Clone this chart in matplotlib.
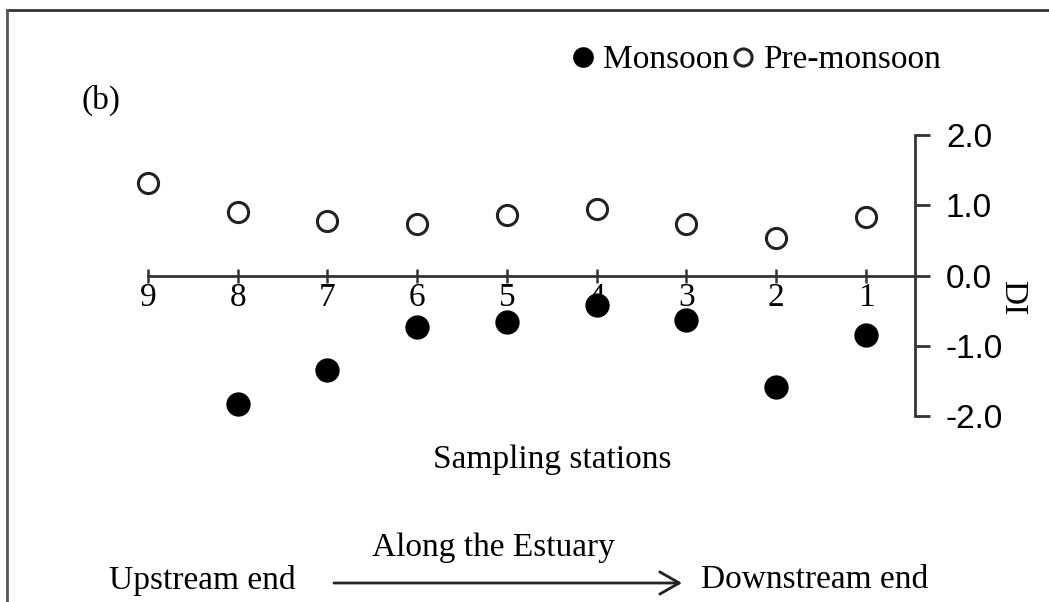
import matplotlib
matplotlib.use("Agg")
import matplotlib.pyplot as plt
from matplotlib.lines import Line2D

stations = [9, 8, 7, 6, 5, 4, 3, 2, 1]
tick_labels = ["9", "8", "7", "6", "5", "4", "3", "2", "1"]
pre_monsoon = [1.32, 0.90, 0.78, 0.73, 0.86, 0.95, 0.73, 0.53, 0.83]
monsoon_stations = [8, 7, 6, 5, 4, 3, 2, 1]
monsoon = [-1.83, -1.35, -0.73, -0.66, -0.42, -0.63, -1.59, -0.85]
y_ticks = [-2.0, -1.0, 0.0, 1.0, 2.0]

W, H = 1049, 602
fig = plt.figure(figsize=(W / 100, H / 100), dpi=100)
serif = "Liberation Serif"
sans = "Liberation Sans"

# axes placement (pixel geometry)
ax = fig.add_axes([94.15 / W, 0.2508, (1000.6 - 94.15) / W, 0.6997])
ax.set_xlim(9.6, -0.5)
ax.set_ylim(-2.5, 3.5)
ax.patch.set_alpha(0)

ax.plot(monsoon_stations, monsoon, "o", color="black", markersize=17.5,
        markeredgewidth=0, linestyle="none", label="Monsoon")
ax.plot(stations, pre_monsoon, "o", markerfacecolor="white", markeredgecolor="#222222",
        markersize=14.5, markeredgewidth=2.2, linestyle="none", label="Pre-monsoon")

for s in ["top", "left"]:
    ax.spines[s].set_visible(False)
ax.spines["bottom"].set_position(("data", 0))
ax.spines["bottom"].set_bounds(9, 0.45)
ax.spines["right"].set_position(("data", 0.45))
ax.spines["right"].set_bounds(-2, 2)
for s in ["bottom", "right"]:
    ax.spines[s].set_linewidth(2)
    ax.spines[s].set_color("#333333")

ax.set_xticks(stations)
ax.set_xticklabels(tick_labels, family=serif, fontsize=24)
ax.tick_params(axis="x", direction="inout", length=10, width=1.8, color="#333333", pad=0)

ax.yaxis.set_ticks_position("right")
ax.set_yticks(y_ticks)
ax.set_yticklabels([f"{v:.1f}" for v in y_ticks], family=sans, fontsize=24)
ax.tick_params(axis="y", direction="out", length=11, width=2, color="#333333", pad=11)

# texts
fig.text(1012 / W, 1 - 298 / H, "DI", family=serif, fontsize=24, rotation=270,
         ha="center", va="center")
fig.text(552 / W, 1 - 460 / H, "Sampling stations", family=serif, fontsize=24,
         ha="center", va="center")
fig.text(101 / W, 1 - 100 / H, "(b)", family=serif, fontsize=24, ha="center", va="center")
fig.text(493 / W, 1 - 548 / H, "Along the Estuary", family=serif, fontsize=24,
         ha="center", va="center")
fig.text(202 / W, 1 - 580 / H, "Upstream end", family=serif, fontsize=24,
         ha="center", va="center")
fig.text(815 / W, 1 - 580 / H, "Downstream end", family=serif, fontsize=24,
         ha="center", va="center")

ax.annotate("", xy=(682, H - 583), xytext=(334, H - 583),
            xycoords="figure pixels", textcoords="figure pixels",
            arrowprops=dict(arrowstyle="->,head_length=1.4,head_width=0.8",
                            lw=2, color="#222222", shrinkA=0, shrinkB=0))

# legend
leg = fig.legend(loc="center", bbox_to_anchor=(757 / W, 1 - 60 / H), ncol=2,
                 frameon=False, handlelength=0.6, handletextpad=0.3,
                 columnspacing=0.1, prop={"family": serif, "size": 24},
                 markerscale=0.85)

# frame lines
fig.add_artist(Line2D([7 / W, 1.0], [1 - 10 / H, 1 - 10 / H], transform=fig.transFigure,
                      color="#333333", lw=2))
fig.add_artist(Line2D([7 / W, 7 / W], [0, 1 - 10 / H], transform=fig.transFigure,
                      color="#555555", lw=2))

fig.savefig("out.png", dpi=100)
